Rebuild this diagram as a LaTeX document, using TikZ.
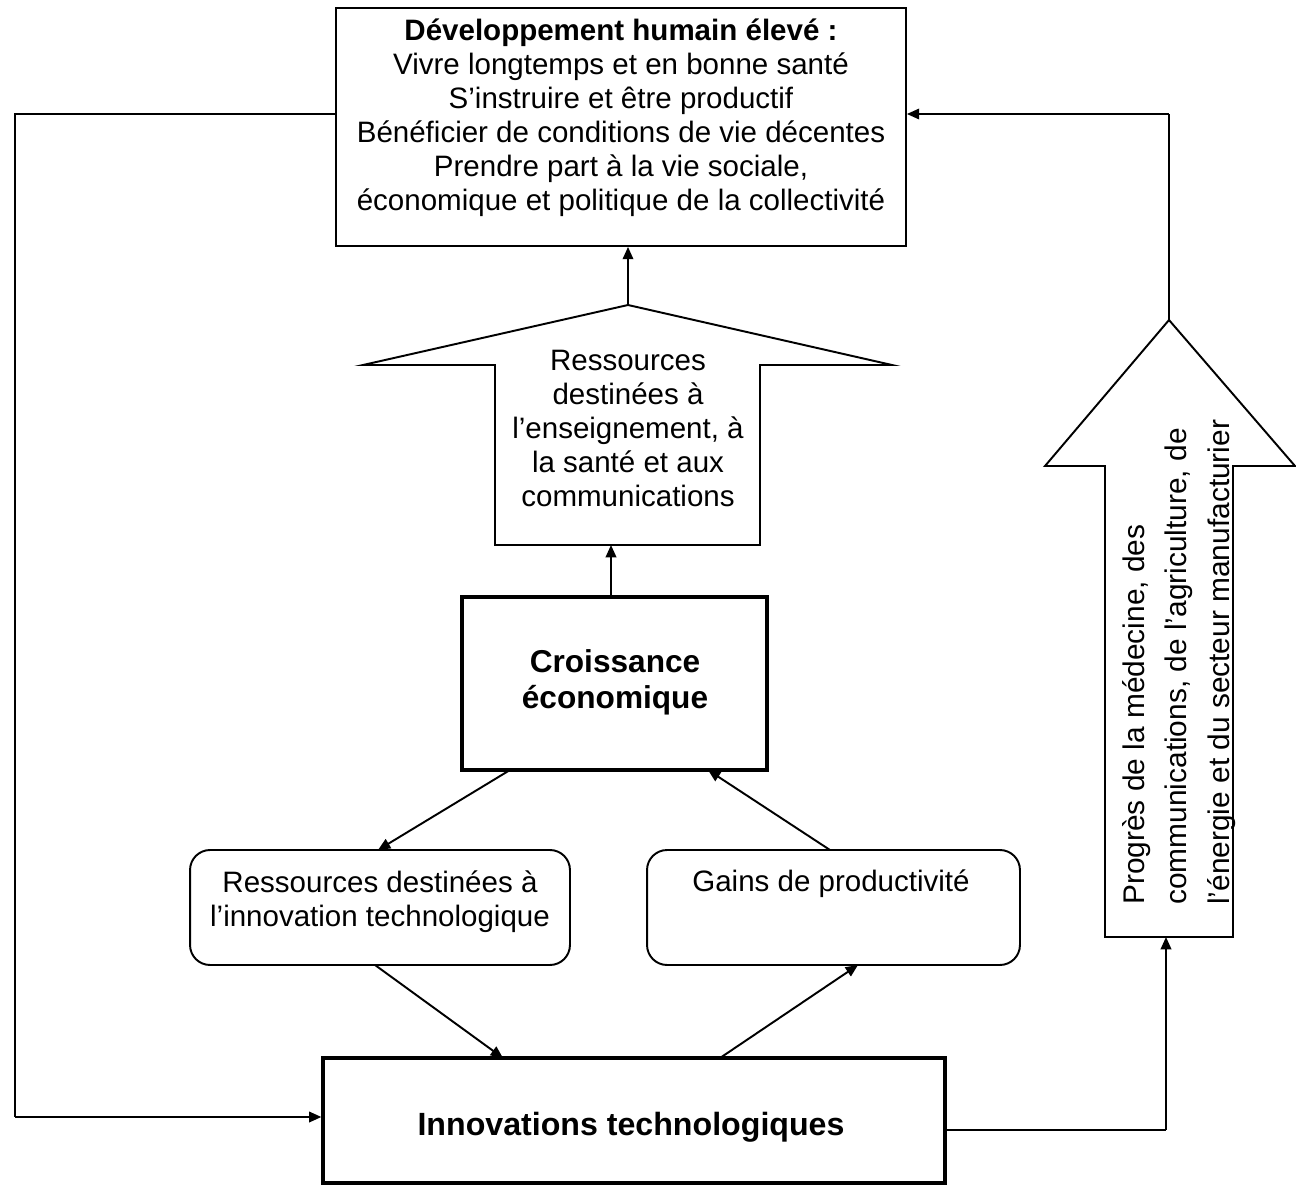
\documentclass[tikz,border=0pt]{standalone}
\usepackage{fontspec}
\setmainfont{Liberation Sans}
\usetikzlibrary{arrows.meta}
\begin{document}
\begin{tikzpicture}[x=0.02cm,y=-0.02cm,
  plainbox/.style={draw, line width=1.1pt, inner sep=0pt},
  heavybox/.style={draw, line width=1.9pt, inner sep=0pt},
  roundbox/.style={draw, line width=1.1pt, inner sep=0pt, rounded corners=0.4cm},
  bigarrow/.style={draw, line width=1.1pt, line join=miter},
  conn/.style={line width=1.1pt, -{Triangle[length=7pt,width=6pt]}},
  link/.style={line width=1.1pt},
  txt/.style={font=\fontsize{16.8}{19.35}\selectfont, align=center, inner sep=0pt},
  rtxt/.style={font=\fontsize{17}{24}\selectfont, align=left, inner sep=0pt}]
\useasboundingbox (0,0) rectangle (1296,1186);

% boxes
\node[plainbox, minimum width=11.4cm, minimum height=4.76cm] (dev) at (621,127) {};
\node[txt] (devtxt) at (621,118) {\textbf{Développement humain élevé :}\\
Vivre longtemps et en bonne santé\\
S’instruire et être productif\\
Bénéficier de conditions de vie décentes\\
Prendre part à la vie sociale,\\
économique et politique de la collectivité};

\node[heavybox, minimum width=6.1cm, minimum height=3.46cm] (croiss) at (614.5,683.5) {};
\node[txt, font=\fontsize{18}{20.5}\selectfont\bfseries] (croisstxt) at (615,682) {Croissance\\économique};

\node[roundbox, minimum width=7.6cm, minimum height=2.3cm] (resinn) at (380,907.5) {};
\node[txt] (resinntxt) at (380,902) {Ressources destinées à\\l’innovation technologique};

\node[roundbox, minimum width=7.46cm, minimum height=2.3cm] (gains) at (833.5,907.5) {};
\node[txt] (gainstxt) at (831,884) {Gains de productivité};

\node[heavybox, minimum width=12.44cm, minimum height=2.5cm] (innov) at (634,1120.5) {};
\node[txt, font=\fontsize{18.3}{21}\selectfont\bfseries] (innovtxt) at (631,1127) {Innovations technologiques};

% middle block arrow
\draw[bigarrow] (628,305) -- (892,365) -- (760,365) -- (760,545) -- (495,545) -- (495,365) -- (363,365) -- cycle;
\coordinate (rtip) at (628,305);
\coordinate (rbase) at (628,545);
\node[txt] (restxt) at (628,428) {Ressources\\destinées à\\l’enseignement, à\\la santé et aux\\communications};

% right block arrow
\draw[bigarrow] (1169,320) -- (1295,466) -- (1233,466) -- (1233,937) -- (1105,937) -- (1105,466) -- (1045,466) -- cycle;
\coordinate (ptip) at (1169,320);
\coordinate (pbase) at (1166,937);
\node[rtxt, rotate=90, anchor=west] (progtxt) at (1179,905) {Progrès de la médecine, des\\communications, de l’agriculture, de\\l’énergie et du secteur manufacturier};

% connectors
\draw[conn] (rtip) -- (rtip |- dev.south);
\draw[conn] (croiss.north -| 611,0) -- (611,545);
\coordinate (cr1) at (510,770);
\coordinate (cr2) at (708,770);
\draw[conn] (cr1) -- (378,850);
\draw[conn] (830,850) -- (cr2);
\draw[conn] (375,965) -- (503,1058);
\draw[conn] (720,1058) -- (858,965);

% feedback loops
\coordinate (lc1) at (15,114);
\coordinate (lc2) at (15,1117);
\draw[link] (dev.west |- lc1) -- (lc1) -- (lc2);
\draw[conn] (lc2) -- (innov.west |- lc2);

\coordinate (rc1) at (1166,1130);
\draw[link] (innov.east |- rc1) -- (rc1);
\draw[conn] (rc1) -- (pbase);
\coordinate (rc2) at (1169,114);
\draw[link] (ptip) -- (rc2);
\draw[conn] (rc2) -- (dev.east |- rc2);
\end{tikzpicture}
\end{document}
